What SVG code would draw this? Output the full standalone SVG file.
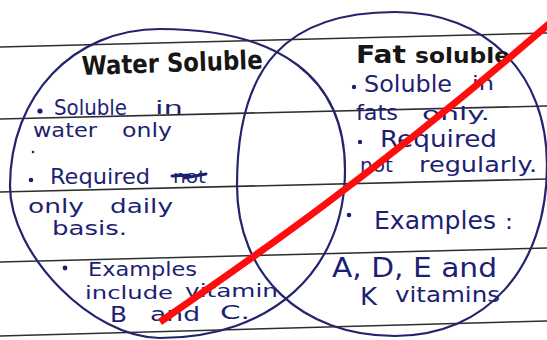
<svg xmlns="http://www.w3.org/2000/svg" width="547" height="340" viewBox="0 0 547 340">
  <style>
    .rule { stroke: #2e2e2e; stroke-width: 1.6; fill: none; }
    .circle { fill: none; stroke: #23246e; stroke-width: 2.2; }
    .ink { font-family: "DejaVu Sans", "Liberation Sans", sans-serif; fill: #1d1f73; }
    .title { font-family: "DejaVu Sans", "Liberation Sans", sans-serif; font-weight: bold; fill: #161616; }
    .bullet { fill: #1d1f73; }
    .scribble { stroke: #1d1f73; stroke-width: 3; fill: none; stroke-linecap: round; }
    .strike { fill: none; stroke: #ff0d0d; stroke-width: 7; stroke-linecap: butt; }
  </style>
  <rect x="0" y="0" width="547" height="340" fill="#ffffff"/>

  <g id="paper-lines">
    <line class="rule" x1="0" y1="47" x2="547" y2="33"/>
    <line class="rule" x1="0" y1="119" x2="547" y2="106"/>
    <line class="rule" x1="0" y1="192" x2="547" y2="179"/>
    <line class="rule" x1="0" y1="262" x2="547" y2="248"/>
    <line class="rule" x1="0" y1="336" x2="547" y2="321"/>
  </g>

  <g id="water-soluble">
    <path class="circle" d="M10 186 C10 96 73 29 160 29 C280 29 345 78 345 170 C345 271 271 338 160 338 C92 338 10 254 10 186 Z"/>
    <text class="title" x="82" y="75" font-size="26" textLength="181" lengthAdjust="spacingAndGlyphs" transform="rotate(-2 82 75)">Water Soluble</text>
    <circle class="bullet" cx="40" cy="111" r="2.6"/>
    <text class="ink" x="54" y="115" font-size="21" textLength="73" lengthAdjust="spacingAndGlyphs">Soluble</text>
    <text class="ink" x="155" y="114" font-size="18" textLength="28" lengthAdjust="spacingAndGlyphs">in</text>
    <text class="ink" x="33" y="137" font-size="20" textLength="64" lengthAdjust="spacingAndGlyphs">water</text>
    <text class="ink" x="122" y="137" font-size="20" textLength="50" lengthAdjust="spacingAndGlyphs">only</text>
    <circle class="bullet" cx="33" cy="152" r="1.3"/>
    <circle class="bullet" cx="31" cy="180" r="2.3"/>
    <text class="ink" x="50" y="184" font-size="21" textLength="100" lengthAdjust="spacingAndGlyphs">Required</text>
    <text class="ink" x="173" y="183" font-size="18" textLength="33" lengthAdjust="spacingAndGlyphs">not</text>
    <path class="scribble" d="M172 176 L190 175 L184 178 L206 174"/>
    <text class="ink" x="28" y="213" font-size="20" textLength="56" lengthAdjust="spacingAndGlyphs">only</text>
    <text class="ink" x="110" y="213" font-size="20" textLength="63" lengthAdjust="spacingAndGlyphs">daily</text>
    <text class="ink" x="52" y="235" font-size="20" textLength="75" lengthAdjust="spacingAndGlyphs">basis.</text>
    <circle class="bullet" cx="65" cy="268" r="2.4"/>
    <text class="ink" x="88" y="276" font-size="19" textLength="109" lengthAdjust="spacingAndGlyphs">Examples</text>
    <text class="ink" x="85" y="299" font-size="18" textLength="88" lengthAdjust="spacingAndGlyphs">include</text>
    <text class="ink" x="185" y="297" font-size="18" textLength="93" lengthAdjust="spacingAndGlyphs">vitamin</text>
    <text class="ink" x="110" y="322" font-size="21" textLength="17" lengthAdjust="spacingAndGlyphs">B</text>
    <text class="ink" x="150" y="321" font-size="19" textLength="50" lengthAdjust="spacingAndGlyphs">and</text>
    <text class="ink" x="220" y="319" font-size="19" textLength="30" lengthAdjust="spacingAndGlyphs">C.</text>
  </g>

  <g id="fat-soluble">
    <path class="circle" d="M237 185 C237 64 288 12 395 12 C486 12 547 73 547 165 C547 268 486 336 395 336 C302 336 237 276 237 185 Z"/>
    <text class="title" x="356" y="63" font-size="24" textLength="50" lengthAdjust="spacingAndGlyphs">Fat</text>
    <text class="title" x="415" y="63" font-size="21" textLength="95" lengthAdjust="spacingAndGlyphs">soluble</text>
    <circle class="bullet" cx="354" cy="87" r="2.2"/>
    <text class="ink" x="364" y="92" font-size="23" textLength="88" lengthAdjust="spacingAndGlyphs">Soluble</text>
    <text class="ink" x="472" y="90" font-size="20" textLength="22" lengthAdjust="spacingAndGlyphs">in</text>
    <text class="ink" x="356" y="120" font-size="22" textLength="42" lengthAdjust="spacingAndGlyphs">fats</text>
    <text class="ink" x="422" y="120" font-size="18" textLength="68" lengthAdjust="spacingAndGlyphs">only.</text>
    <circle class="bullet" cx="360" cy="142" r="2.2"/>
    <text class="ink" x="380" y="147" font-size="23" textLength="117" lengthAdjust="spacingAndGlyphs">Required</text>
    <text class="ink" x="360" y="172" font-size="20" textLength="33" lengthAdjust="spacingAndGlyphs">not</text>
    <text class="ink" x="419" y="172" font-size="21" textLength="118" lengthAdjust="spacingAndGlyphs">regularly.</text>
    <circle class="bullet" cx="349" cy="215" r="2.3"/>
    <text class="ink" x="374" y="229" font-size="25" textLength="122" lengthAdjust="spacingAndGlyphs">Examples</text>
    <text class="ink" x="505" y="229" font-size="22" textLength="8" lengthAdjust="spacingAndGlyphs">:</text>
    <text class="ink" x="332" y="277" font-size="26" textLength="165" lengthAdjust="spacingAndGlyphs">A, D, E and</text>
    <text class="ink" x="360" y="305" font-size="24" textLength="17" lengthAdjust="spacingAndGlyphs">K</text>
    <text class="ink" x="395" y="302" font-size="21" textLength="105" lengthAdjust="spacingAndGlyphs">vitamins</text>
  </g>

  <g id="annotations">
    <path class="strike" d="M160 322 C250 260 380 170 549 24"/>
  </g>
</svg>
